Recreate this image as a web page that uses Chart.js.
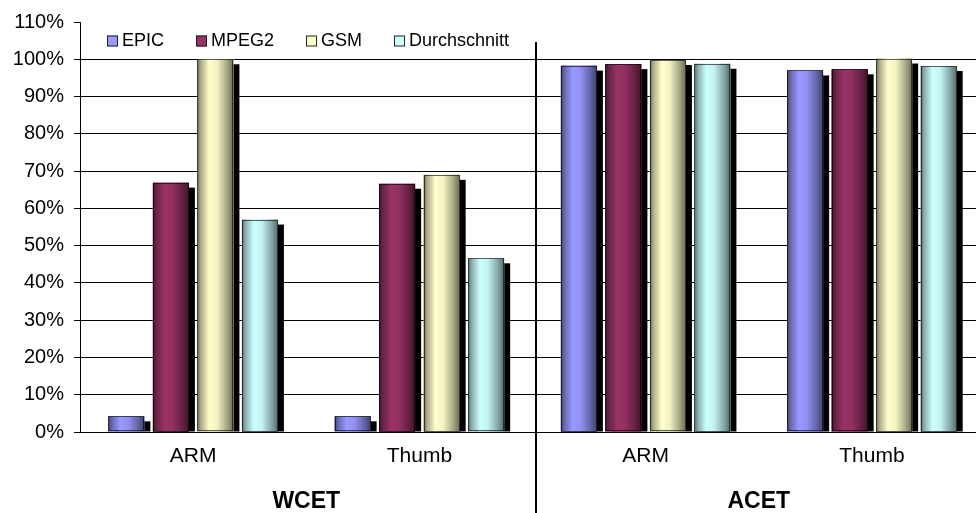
<!DOCTYPE html>
<html>
<head>
<meta charset="utf-8">
<script src="https://cdn.jsdelivr.net/npm/chart.js@4.4.1/dist/chart.umd.min.js"></script>
<style>
  html, body { margin: 0; padding: 0; background: #fff; overflow: hidden; }
  #wrap { width: 990px; height: 513px; }
</style>
</head>
<body>
<div id="wrap"><canvas id="c" width="990" height="513"></canvas></div>
<script>
// Categories (lower level) and their groups (upper level)
const categories = ['ARM', 'Thumb', 'ARM', 'Thumb'];
const groups = ['WCET', 'ACET'];

// Series values in percent
const seriesNames = ['EPIC', 'MPEG2', 'GSM', 'Durchschnitt'];
const epic = [4.2, 4.2, 98.3, 97.0];
const mpeg2 = [66.9, 66.6, 98.7, 97.3];
const gsm = [100.0, 69.0, 99.8, 100.2];
const durchschnitt = [57.0, 46.6, 98.8, 98.2];

// Value axis ticks
const yTickValues = [0, 10, 20, 30, 40, 50, 60, 70, 80, 90, 100, 110];

const seriesColors = ['#9999FF', '#993366', '#FFFFCC', '#CCFFFF'];
const FONT = '"Liberation Sans", Arial, sans-serif';

function shade(hex, f) {
  const n = parseInt(hex.slice(1), 16);
  const r = Math.round(((n >> 16) & 255) * f);
  const g = Math.round(((n >> 8) & 255) * f);
  const b = Math.round((n & 255) * f);
  return `rgb(${r},${g},${b})`;
}

// Black drop shadow behind every bar
const shadowPlugin = {
  id: 'barShadows',
  beforeDatasetsDraw(chart) {
    const ctx = chart.ctx;
    ctx.save();
    ctx.fillStyle = '#000';
    chart.data.datasets.forEach((ds, di) => {
      const meta = chart.getDatasetMeta(di);
      meta.data.forEach(bar => {
        const { x, y, base, width } = bar.getProps(['x', 'y', 'base', 'width'], true);
        const top = y + 5;
        if (top < base) ctx.fillRect(x - width / 2 + 6, top, width, base - top);
      });
    });
    ctx.restore();
  }
};

// Cylinder-like horizontal shading over each bar
const cylinderPlugin = {
  id: 'cylinderShading',
  afterDatasetsDraw(chart) {
    const ctx = chart.ctx;
    ctx.save();
    chart.data.datasets.forEach((ds, di) => {
      const meta = chart.getDatasetMeta(di);
      const col = seriesColors[di];
      meta.data.forEach(bar => {
        const { x, y, base, width } = bar.getProps(['x', 'y', 'base', 'width'], true);
        const l = x - width / 2, r = x + width / 2;
        const g = ctx.createLinearGradient(l, 0, r, 0);
        g.addColorStop(0, shade(col, 0.42));
        g.addColorStop(0.1, shade(col, 0.68));
        g.addColorStop(0.33, shade(col, 1.0));
        g.addColorStop(0.55, shade(col, 0.95));
        g.addColorStop(0.82, shade(col, 0.66));
        g.addColorStop(1, shade(col, 0.42));
        ctx.fillStyle = g;
        ctx.fillRect(l, y, width, base - y);
        ctx.strokeStyle = 'rgba(0,0,0,0.6)';
        ctx.lineWidth = 1;
        ctx.strokeRect(Math.round(l) + 0.5, Math.round(y) + 0.5, Math.round(width) - 1, Math.round(base - y) - 1);
      });
    });
    ctx.restore();
  }
};

// Group separator, group labels and the legend
const decorPlugin = {
  id: 'decor',
  afterDraw(chart) {
    const ctx = chart.ctx;
    const xs = chart.scales.x;
    const area = chart.chartArea;
    ctx.save();

    // separator between the two groups
    const sepX = Math.round((xs.getPixelForValue(1) + xs.getPixelForValue(2)) / 2 + 3);
    ctx.strokeStyle = '#000';
    ctx.lineWidth = 2;
    ctx.beginPath();
    ctx.moveTo(sepX, 42);
    ctx.lineTo(sepX, chart.height);
    ctx.stroke();

    // group labels
    ctx.fillStyle = '#000';
    ctx.font = `bold 23px ${FONT}`;
    ctx.textAlign = 'center';
    ctx.textBaseline = 'middle';
    groups.forEach((gName, gi) => {
      const cx = (xs.getPixelForValue(gi * 2) + xs.getPixelForValue(gi * 2 + 1)) / 2;
      ctx.fillText(gName, cx, 502);
    });

    // legend
    ctx.font = `18px ${FONT}`;
    ctx.textAlign = 'left';
    let lx = area.left + 27;
    const ly = 41;
    chart.data.datasets.forEach((ds, di) => {
      ctx.fillStyle = seriesColors[di];
      ctx.fillRect(lx, ly - 5.5, 11, 11);
      ctx.strokeStyle = '#222';
      ctx.lineWidth = 1;
      ctx.strokeRect(lx + 0.5, ly - 5, 10, 10);
      ctx.fillStyle = '#000';
      ctx.fillText(ds.label, lx + 15, ly);
      lx += 15 + ctx.measureText(ds.label).width + 32;
    });
    ctx.restore();
  }
};

const seriesData = [epic, mpeg2, gsm, durchschnitt];

new Chart(document.getElementById('c'), {
  type: 'bar',
  data: {
    labels: categories,
    datasets: seriesNames.map((name, i) => ({
      label: name,
      data: seriesData[i],
      backgroundColor: seriesColors[i],
      borderWidth: 0,
      categoryPercentage: 0.787,
      barPercentage: 0.81
    }))
  },
  options: {
    responsive: false,
    animation: false,
    events: [],
    layout: { padding: { top: 19.5, right: 5, left: 0, bottom: 0 } },
    plugins: { legend: { display: false }, tooltip: { enabled: false } },
    scales: {
      x: {
        grid: { display: false, drawTicks: false },
        border: { display: true, color: '#000', width: 1 },
        ticks: { color: '#000', font: { family: FONT, size: 21 }, padding: 12, maxRotation: 0 },
        afterFit(scale) { scale.height = 81; }
      },
      y: {
        min: yTickValues[0],
        max: yTickValues[yTickValues.length - 1],
        afterBuildTicks(scale) { scale.ticks = yTickValues.map(v => ({ value: v })); },
        grid: {
          color: c => (c.tick && c.tick.value === yTickValues[yTickValues.length - 1]) ? 'rgba(0,0,0,0)' : '#000',
          tickColor: '#000',
          tickLength: 6,
          lineWidth: 1
        },
        border: { display: true, color: '#000', width: 1 },
        ticks: {
          color: '#000',
          font: { family: FONT, size: 20 },
          padding: 10,
          callback: v => v + '%'
        },
        afterFit(scale) { scale.width = 80; }
      }
    }
  },
  plugins: [shadowPlugin, cylinderPlugin, decorPlugin]
});
</script>
</body>
</html>
